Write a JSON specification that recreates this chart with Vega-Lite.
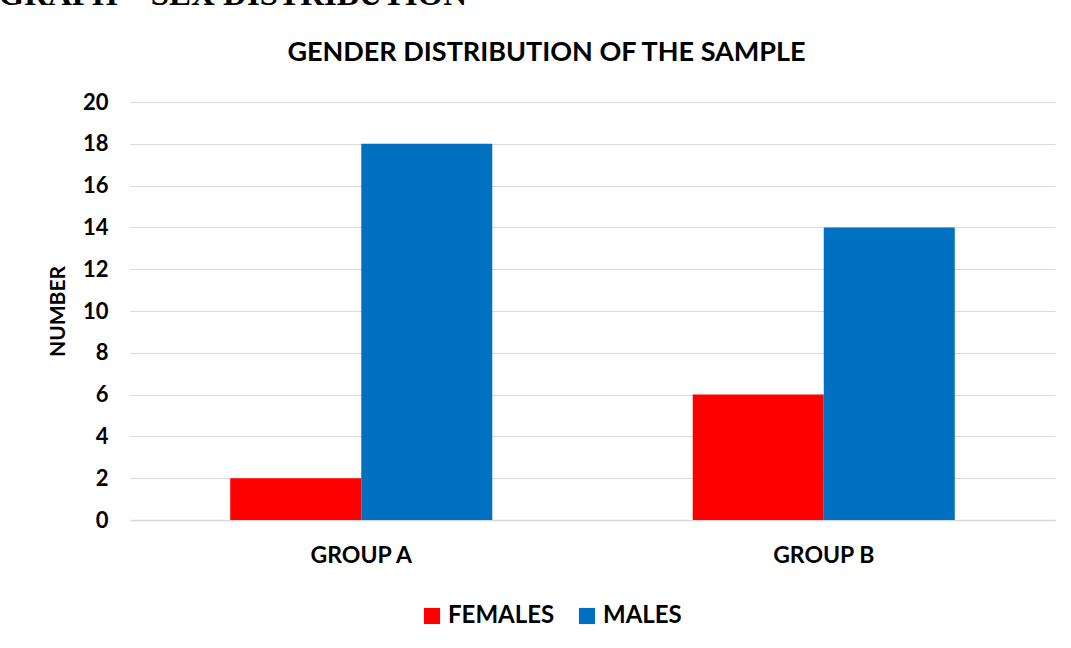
{
  "$schema": "https://vega.github.io/schema/vega-lite/v6.json",
  "autosize": "none",
  "width": 925,
  "height": 418,
  "padding": {"left": 130, "top": 102, "right": 16, "bottom": 128},
  "background": "white",
  "data": {
    "values": [
      {"group": "GROUP A", "gender": "FEMALES", "number": 2},
      {"group": "GROUP A", "gender": "MALES", "number": 18},
      {"group": "GROUP B", "gender": "FEMALES", "number": 6},
      {"group": "GROUP B", "gender": "MALES", "number": 14}
    ]
  },
  "layer": [
    {
      "mark": {"type": "bar"},
      "encoding": {
        "x": {
          "field": "group",
          "type": "nominal",
          "scale": {"paddingInner": 0, "paddingOuter": 0},
          "axis": {
            "orient": "bottom",
            "title": null,
            "labelAngle": 0,
            "labelFont": "Lato",
            "labelFontSize": 23,
            "labelFontWeight": "bold",
            "labelColor": "#000000",
            "labelPadding": 24,
            "ticks": false,
            "domainColor": "#d9d9d9",
            "domainWidth": 1.5
          }
        },
        "xOffset": {
          "field": "gender",
          "type": "nominal",
          "scale": {"paddingInner": 0, "paddingOuter": 0.765}
        },
        "y": {
          "field": "number",
          "type": "quantitative",
          "scale": {"domain": [0, 20]},
          "axis": {
            "orient": "left",
            "title": "NUMBER",
            "titleFont": "Lato",
            "titleFontSize": 21,
            "titleFontWeight": "bold",
            "titleColor": "#000000",
            "titlePadding": 14,
            "values": [0, 2, 4, 6, 8, 10, 12, 14, 16, 18, 20],
            "labelFont": "Lato",
            "labelFontSize": 22,
            "labelFontWeight": "bold",
            "labelColor": "#000000",
            "labelPadding": 22,
            "ticks": false,
            "domain": false,
            "gridColor": "#d9d9d9",
            "gridWidth": 1.2
          }
        },
        "color": {
          "field": "gender",
          "type": "nominal",
          "scale": {"domain": ["FEMALES", "MALES"], "range": ["#FF0000", "#0070C0"]},
          "legend": {
            "title": null,
            "orient": "none",
            "legendX": 290,
            "legendY": 502,
            "direction": "horizontal",
            "symbolType": "square",
            "symbolSize": 260,
            "symbolStrokeWidth": 0,
            "labelFont": "Lato",
            "labelFontSize": 24,
            "labelFontWeight": "bold",
            "labelColor": "#000000",
            "columnPadding": 20
          }
        }
      }
    },
    {
      "mark": {"type": "bar", "opacity": 0},
      "encoding": {
        "x": {
          "field": "group",
          "type": "nominal",
          "axis": {
            "orient": "top",
            "labels": false,
            "ticks": false,
            "domain": false,
            "grid": false,
            "title": "GENDER DISTRIBUTION OF THE SAMPLE",
            "titleFont": "Lato",
            "titleFontSize": 27,
            "titleFontWeight": "bold",
            "titleColor": "#000000",
            "titleAlign": "center",
            "titleAnchor": "middle",
            "titleBaseline": "alphabetic",
            "titleX": 416,
            "titleY": -42
          }
        },
        "y": {
          "field": "number",
          "type": "quantitative",
          "axis": {
            "orient": "right",
            "labels": false,
            "ticks": false,
            "domain": false,
            "grid": false,
            "title": "GRAPH – SEX DISTRIBUTION",
            "titleFont": "Liberation Serif",
            "titleFontSize": 33,
            "titleFontWeight": "bold",
            "titleColor": "#000000",
            "titleAngle": 0,
            "titleAlign": "left",
            "titleAnchor": "start",
            "titleBaseline": "alphabetic",
            "titleX": -1057,
            "titleY": -98
          }
        }
      }
    }
  ],
  "resolve": {"axis": {"x": "independent", "y": "independent"}},
  "config": {
    "view": {"stroke": null}
  }
}
